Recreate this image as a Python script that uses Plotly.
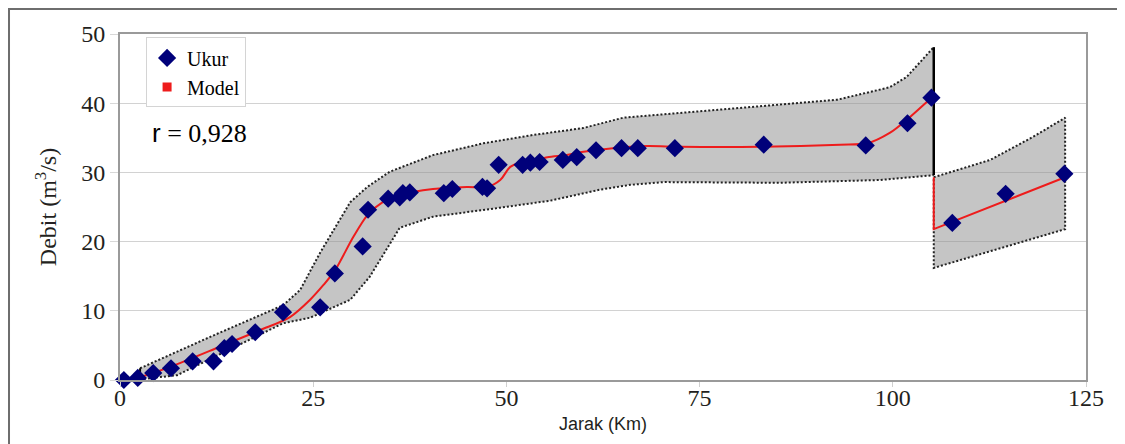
import plotly.graph_objects as go

# ---- data ----
ukur_km = [0.5, 2.3, 4.3, 6.6, 9.4, 12.1, 13.5, 14.5, 17.5, 21.1, 25.9, 27.8, 31.4, 32.1,
           34.7, 36.2, 36.6, 37.5, 41.9, 43.0, 46.9, 47.5, 49.0, 52.1, 53.1, 54.3, 57.3,
           59.1, 61.6, 64.9, 67.0, 71.8, 83.3, 96.5, 101.9, 105.0, 107.7, 114.6, 122.2]
ukur_q = [0.0, 0.3, 1.0, 1.7, 2.7, 2.7, 4.6, 5.2, 6.9, 9.8, 10.5, 15.4, 19.3, 24.6,
          26.2, 26.4, 27.0, 27.1, 27.0, 27.6, 27.9, 27.7, 31.1, 31.1, 31.4, 31.5, 31.8,
          32.2, 33.2, 33.5, 33.5, 33.5, 34.0, 33.9, 37.1, 40.8, 22.7, 26.9, 29.8]

model1_km = [2.6, 6.5, 12.9, 18.1, 22.0, 24.6, 26.3, 27.8, 30.2, 32.0, 34.0, 36.2,
             40.5, 44.9, 47.5, 49.2, 50.5, 51.8, 53.4, 55.3, 57.8, 59.5, 63.8, 68.2, 72.5,
             82.8, 93.2, 96.7, 99.6, 101.8, 105.1]
model1_q = [0.4, 1.9, 4.8, 7.2, 9.1, 11.6, 13.7, 15.8, 20.7, 23.8, 25.7, 26.7,
            27.6, 27.9, 27.9, 28.9, 30.8, 31.4, 31.6, 32.2, 32.5, 32.9, 33.5, 33.8, 33.7,
            33.7, 34.0, 34.2, 35.7, 37.6, 40.9]

model2_km = [105.3, 105.3, 122.3]
model2_q = [29.3, 21.8, 29.3]

band1_up_km = [2.6, 11.6, 21.1, 23.3, 25.9, 29.8, 32.0, 34.9, 40.5, 47.0, 53.4, 59.9,
               65.1, 72.5, 81.1, 92.8, 99.6, 101.8, 105.3]
band1_up = [1.7, 6.2, 10.8, 13.0, 18.4, 25.7, 27.9, 30.1, 32.5, 34.2, 35.4, 36.4,
            37.9, 38.6, 39.5, 40.5, 42.3, 43.8, 48.1]
band1_lo_km = [2.6, 7.4, 21.1, 24.6, 29.8, 32.3, 36.2, 40.5, 49.2, 55.6, 62.1, 66.0,
               70.3, 85.4, 98.3, 105.3]
band1_lo = [0.1, 0.7, 8.2, 9.0, 11.6, 14.9, 22.0, 23.6, 24.9, 25.9, 27.5, 28.2,
            28.6, 28.5, 28.9, 29.6]

band2_up_km = [105.3, 112.6, 118.1, 122.3]
band2_up = [29.3, 31.8, 35.1, 37.9]
band2_lo_km = [105.3, 122.3]
band2_lo = [16.2, 21.8]

x_ticks = [0, 25, 50, 75, 100, 125]
y_ticks = [0, 10, 20, 30, 40, 50]

SERIF = "Liberation Serif, Times New Roman, serif"
SANS = "Liberation Sans, Arial, sans-serif"
BAND_FILL = "rgba(140,140,140,0.5)"
DOT = dict(color="#222222", width=2, dash="2px,2px")

fig = go.Figure()

# band 1 fill
fig.add_trace(go.Scatter(
    x=band1_up_km + band1_lo_km[::-1], y=band1_up + band1_lo[::-1],
    fill="toself", fillcolor=BAND_FILL, mode="lines", line=dict(width=0),
    showlegend=False, hoverinfo="skip"))
fig.add_trace(go.Scatter(x=band1_up_km, y=band1_up, mode="lines", line=DOT,
                         showlegend=False, hoverinfo="skip"))
fig.add_trace(go.Scatter(x=band1_lo_km, y=band1_lo, mode="lines", line=DOT,
                         showlegend=False, hoverinfo="skip"))
# solid edges of band 1
fig.add_trace(go.Scatter(x=[band1_lo_km[0], band1_up_km[0]], y=[band1_lo[0], band1_up[0]],
                         mode="lines", line=dict(color="black", width=2),
                         showlegend=False, hoverinfo="skip"))
fig.add_trace(go.Scatter(x=[band1_lo_km[-1], band1_up_km[-1]], y=[band1_lo[-1], band1_up[-1]],
                         mode="lines", line=dict(color="black", width=2.5),
                         showlegend=False, hoverinfo="skip"))

# band 2
fig.add_trace(go.Scatter(
    x=band2_up_km + band2_lo_km[::-1] + [band2_up_km[0]],
    y=band2_up + band2_lo[::-1] + [band2_up[0]],
    fill="toself", fillcolor=BAND_FILL, mode="lines", line=DOT,
    showlegend=False, hoverinfo="skip"))

# model lines
fig.add_trace(go.Scatter(x=model1_km, y=model1_q, mode="lines",
                         line=dict(color="#ee1c1c", width=2, shape="spline", smoothing=0.8),
                         showlegend=False, hoverinfo="skip"))
fig.add_trace(go.Scatter(x=model2_km, y=model2_q, mode="lines",
                         line=dict(color="#ee1c1c", width=2),
                         showlegend=False, hoverinfo="skip"))

# measured points
fig.add_trace(go.Scatter(x=ukur_km, y=ukur_q, mode="markers", name="Ukur",
                         marker=dict(symbol="diamond", size=14, color="#00007a"),
                         cliponaxis=False))
# legend entry for model
fig.add_trace(go.Scatter(x=[None], y=[None], mode="markers", name="Model",
                         marker=dict(symbol="square", size=9, color="#ee1c1c")))

# outer border
fig.add_shape(type="rect", xref="paper", yref="paper",
              x0=-0.1149, x1=1.0362, y0=-0.25, y1=1.0723,
              line=dict(color="#6e6e6e", width=2))

fig.add_annotation(
    xref="paper", yref="paper", x=0.031, y=0.715, xanchor="left", yanchor="middle",
    showarrow=False,
    text="<span style='font-family:Liberation Sans'>r</span> = 0,928",
    font=dict(family=SERIF, size=26, color="black"))

fig.update_layout(
    width=1117, height=436,
    margin=dict(l=112, r=39, t=26, b=64),
    paper_bgcolor="white", plot_bgcolor="white",
    showlegend=True,
    legend=dict(x=0.027, y=0.99, xanchor="left", yanchor="top",
                bgcolor="white", bordercolor="#d4d4d4", borderwidth=1,
                font=dict(family=SERIF, size=20, color="black"),
                tracegroupgap=0, itemwidth=30),
    xaxis=dict(range=[0, 125], tickvals=x_ticks, showgrid=False, zeroline=False,
               showline=True, mirror=True, linecolor="#9a9a9a", linewidth=2,
               ticks="outside", ticklen=5, tickcolor="#d0d0d0", automargin=False,
               ticklabelstandoff=-10,
               tickfont=dict(family=SERIF, size=24, color="#231f20"),
               title=dict(text="Jarak (Km)", font=dict(family=SANS, size=18, color="#231f20"),
                          standoff=8)),
    yaxis=dict(range=[0, 50], tickvals=y_ticks, showgrid=True, gridcolor="#d2d2d2",
               gridwidth=1, zeroline=False, automargin=False,
               showline=True, mirror=True, linecolor="#9a9a9a", linewidth=2,
               ticks="outside", ticklen=8, tickcolor="#d8d8d8",
               tickfont=dict(family=SERIF, size=24, color="#231f20"),
               title=dict(text="Debit (m<sup>3</sup>/s)",
                          font=dict(family=SERIF, size=24, color="#231f20"),
                          standoff=18)),
)

fig.write_html("out.html")
